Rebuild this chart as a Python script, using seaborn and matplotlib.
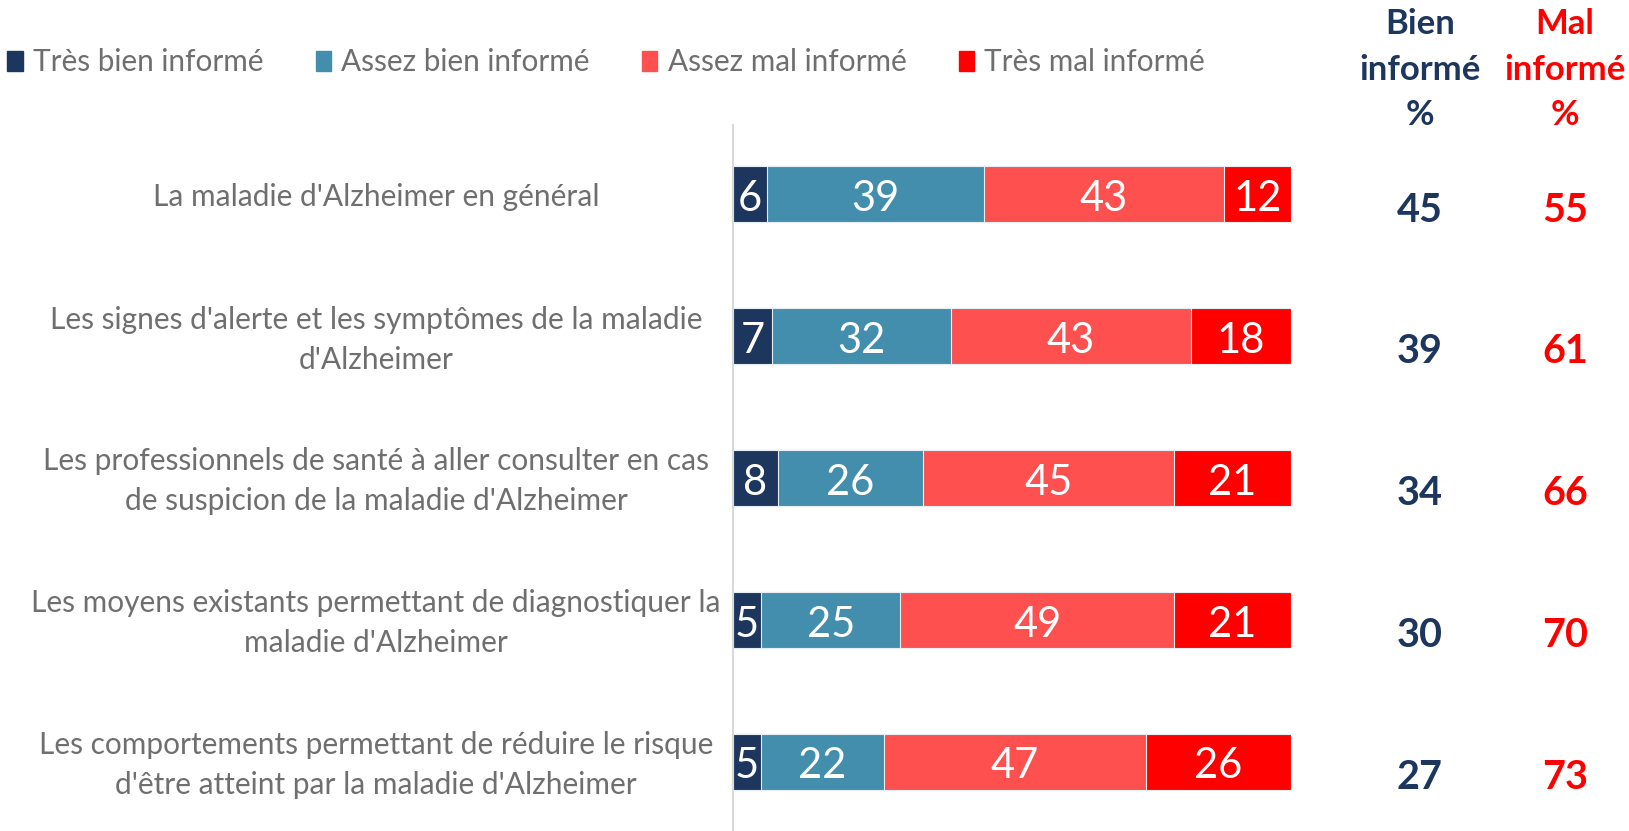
import numpy as np
import pandas as pd
import matplotlib
matplotlib.use("Agg")
import matplotlib.pyplot as plt
import matplotlib.transforms as mtrans
import seaborn as sns

sns.set_theme(style="white")
plt.rcParams['font.family'] = ['Lato', 'DejaVu Sans']

# data
categories = [
    "La maladie d'Alzheimer en général",
    "Les signes d'alerte et les symptômes de la maladie\nd'Alzheimer",
    "Les professionnels de santé à aller consulter en cas\nde suspicion de la maladie d'Alzheimer",
    "Les moyens existants permettant de diagnostiquer la\nmaladie d'Alzheimer",
    "Les comportements permettant de réduire le risque\nd'être atteint par la maladie d'Alzheimer",
]
tres_bien = [6, 7, 8, 5, 5]
assez_bien = [39, 32, 26, 25, 22]
assez_mal = [43, 43, 45, 49, 47]
tres_mal = [12, 18, 21, 21, 26]
bien_total = [45, 39, 34, 30, 27]
mal_total = [55, 61, 66, 70, 73]

series_names = ["Très bien informé", "Assez bien informé", "Assez mal informé", "Très mal informé"]
colors = ["#1C365E", "#428EAC", "#FF5050", "#FF0000"]
gray = "#6F6F6F"
navy = "#1C365E"

df = pd.DataFrame({"cat": categories, "tb": tres_bien, "ab": assez_bien,
                   "am": assez_mal, "tm": tres_mal})
segs = df[["tb", "ab", "am", "tm"]].values
ends = segs.cumsum(axis=1)
starts = ends - segs

fig = plt.figure(figsize=(16.29, 8.31), dpi=100)
ax = fig.add_axes([0.45, 0.0, 0.3425, 0.8496])

# stacked bars: draw cumulative totals from the longest to the shortest
for j in range(3, -1, -1):
    sns.barplot(x=ends[:, j], y=list(range(len(categories))), orient="h",
                color=colors[j], saturation=1, width=0.395, ax=ax, native_scale=True,
                edgecolor="#E6EEF3", linewidth=0.8, label=series_names[j])

for i in range(len(categories)):
    for j in range(4):
        ax.text((starts[i, j] + ends[i, j]) / 2, i + 0.035, str(segs[i, j]),
                ha="center", va="center", color="white", fontsize=30)
    ax.text(123.1, i + 0.11, str(bien_total[i]), ha="center", va="center",
            color=navy, fontsize=28.5, fontweight="bold", clip_on=False)
    ax.text(149.1, i + 0.11, str(mal_total[i]), ha="center", va="center",
            color="#FF0000", fontsize=28.5, fontweight="bold", clip_on=False)

ax.set_xlim(0, 100)
ax.set_ylim(4.49, -0.49)
ax.set_yticks(range(len(categories)))
ax.set_yticklabels(categories, fontsize=21.5, color=gray, ha="center",
                   multialignment="center", linespacing=1.52)
ax.tick_params(axis="y", length=0, pad=257)
# two-line labels sit a little high in the original
shift = mtrans.ScaledTranslation(0, 0.05, fig.dpi_scale_trans)
for lab in ax.get_yticklabels():
    if "\n" in lab.get_text():
        lab.set_transform(lab.get_transform() + shift)
ax.set_xticks([])
ax.set_xlabel("")
ax.set_ylabel("")
for s in ["top", "right", "bottom"]:
    ax.spines[s].set_visible(False)
ax.spines["left"].set_color("#D9D9D9")
ax.spines["left"].set_linewidth(1.5)
if ax.get_legend() is not None:
    ax.get_legend().remove()

# legend
handles = [plt.Rectangle((0, 0), 1, 1, color=c) for c in colors]
fig.legend(handles, series_names, loc="center left", bbox_to_anchor=(-0.012, 0.925),
           ncol=4, frameon=False, fontsize=21.4, labelcolor=gray,
           handlelength=0.52, handleheight=0.7, handletextpad=0.35,
           columnspacing=1.75)

# column headers
fig.text(0.8717, 0.916, "Bien\ninformé\n%", ha="center", va="center",
         color=navy, fontsize=25, fontweight="bold", linespacing=1.52)
fig.text(0.9607, 0.916, "Mal\ninformé\n%", ha="center", va="center",
         color="#FF0000", fontsize=25, fontweight="bold", linespacing=1.52)

fig.savefig("out.png", dpi=100)
